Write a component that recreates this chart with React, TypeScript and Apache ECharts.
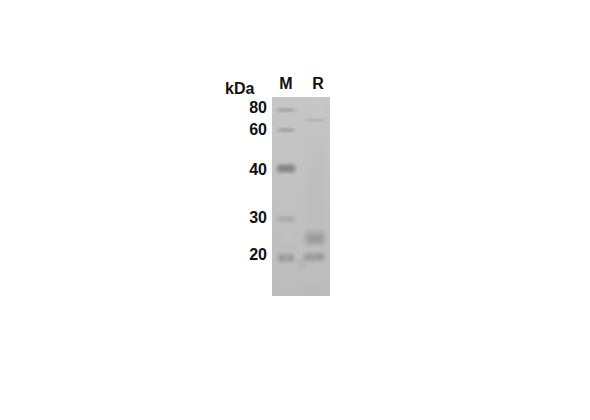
import React, { useEffect, useRef } from "react";
import * as echarts from "echarts";

const laneNames = ["M", "R"];
const lanePositions = [14, 46];
const kdaLabels = ["80", "60", "40", "30", "20"];
const kdaLabelPositions = [10.5, 32.5, 72.5, 120.5, 157.5];
const unitLabel = "kDa";

// band rows: x start, x end, migration, thickness, darkness
const markerBands = [
  [2, 26, 13, 3.5, 0.2],
  [3, 25, 33, 3.5, 0.22],
  [2, 26, 71.5, 6.5, 0.48],
  [2, 26, 122, 5, 0.13],
  [3, 25, 161, 7, 0.2],
  [5, 13, 161, 5, 0.05],
  [16, 23, 161, 5, 0.05],
];
const sampleBands = [
  [30, 55, 23, 2.5, 0.12],
  [29, 57, 141, 11, 0.2],
  [34, 54, 142, 7, 0.07],
  [29, 56, 160, 7, 0.22],
  [30, 40, 160, 5, 0.05],
  [44, 54, 160, 5, 0.05],
];
const smudges = [
  [34, 56, 60, 50, 0.02],
  [3, 26, 95, 40, -0.03],
  [30, 56, 100, 40, 0.02],
  [4, 28, 190, 30, -0.02],
  [24, 36, 166, 9, 0.05],
  [36, 56, 10, 18, -0.03],
  [2, 30, 45, 16, -0.02],
  [30, 50, 195, 14, 0.02],
  [8, 24, 140, 14, -0.03],
];

const allBands = [...smudges, ...markerBands, ...sampleBands];
const BLOBS = 6;

function renderBand(params: any, api: any) {
  const x0 = api.value(0), x1 = api.value(1), y = api.value(2), th = api.value(3), d = api.value(4);
  const [px0, py] = api.coord([x0, y]);
  const [px1] = api.coord([x1, y]);
  const h = api.size([0, th])[1];
  const colour = d < 0 ? "255,255,255" : "40,40,40";
  const a = Math.abs(d);
  const children: any[] = [];
  const w = px1 - px0;
  const bw = Math.max(w * 0.42, 4);
  for (let i = 0; i < BLOBS; i++) {
    const cx = px0 + bw / 2 + ((w - bw) * i) / (BLOBS - 1);
    children.push({
      type: "rect",
      shape: { x: cx - bw / 2, y: py - h, width: bw, height: h * 2 },
      style: {
        fill: {
          type: "radial", x: 0.5, y: 0.5, r: 0.5,
          colorStops: [
            { offset: 0, color: `rgba(${colour},${a / 2.2})` },
            { offset: 0.45, color: `rgba(${colour},${a / 3})` },
            { offset: 1, color: `rgba(${colour},0)` },
          ],
        },
      },
    });
  }
  return { type: "group", children };
}

export default function App() {
  const ref = useRef<HTMLDivElement>(null);
  useEffect(() => {
    const chart = echarts.init(ref.current!, undefined, { renderer: "svg" });
    const labelStyle = { fontFamily: "Liberation Sans", fontWeight: "bold" as const, color: "#111", fontSize: 16 };
    chart.setOption({
      animation: false,
      backgroundColor: "#fff",
      grid: { left: 272, top: 97, width: 58, height: 199, show: true, borderWidth: 0,
        backgroundColor: { type: "linear", x: 0, y: 0, x2: 0, y2: 1, colorStops: [
          { offset: 0, color: "#c6c6c6" }, { offset: 0.5, color: "#c0c0c0" }, { offset: 1, color: "#bcbcbc" } ] } },
      xAxis: {
        type: "value", min: 0, max: 58, position: "top",
        axisLine: { show: false }, axisTick: { show: false }, splitLine: { show: false },
        axisLabel: { ...labelStyle, margin: 6, customValues: lanePositions,
          formatter: (v: number) => laneNames[lanePositions.indexOf(v)] ?? "" },
      },
      yAxis: {
        type: "value", min: 0, max: 199, inverse: true,
        axisLine: { show: false }, axisTick: { show: false }, splitLine: { show: false },
        axisLabel: { ...labelStyle, margin: 5, customValues: kdaLabelPositions,
          formatter: (v: number) => kdaLabels[kdaLabelPositions.indexOf(v)] ?? "" },
      },
      graphic: [{ type: "text", x: 225, y: 80, style: { text: unitLabel, font: "bold 16px 'Liberation Sans'", fill: "#111" } }],
      series: [{ type: "custom", coordinateSystem: "cartesian2d", clip: true, renderItem: renderBand, data: allBands, silent: true }],
    });
    return () => chart.dispose();
  }, []);
  return <div ref={ref} style={{ position: "fixed", left: 0, top: 0, width: 590, height: 420 }} />;
}
